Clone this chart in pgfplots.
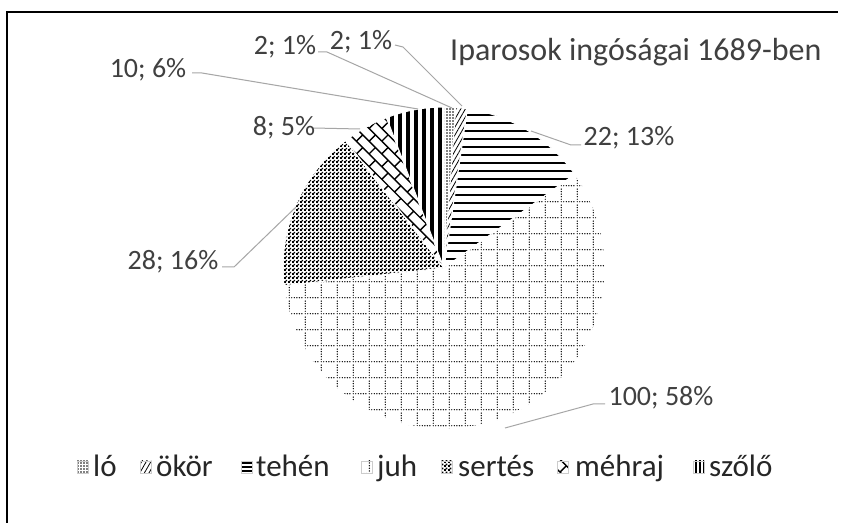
\documentclass[border=0pt]{standalone}
\usepackage{pgfplots}
\pgfplotsset{compat=1.18}
\usepackage{pgfplotstable}
\usepackage{fontspec}
\setmainfont{Carlito}
\usetikzlibrary{patterns,patterns.meta}

% dotted grid (juh)
\pgfdeclarepattern{
  name=dotgrid,
  bottom left={\pgfpoint{0bp}{0bp}},
  top right={\pgfpoint{16bp}{16bp}},
  tile size={\pgfpoint{16bp}{16bp}},
  code={
    \foreach \i in {0,...,5}{
      \pgfpathcircle{\pgfpoint{1.333bp+\i*2.6667bp}{1.333bp}}{0.75bp}
      \pgfpathcircle{\pgfpoint{1.333bp}{1.333bp+\i*2.6667bp}}{0.75bp}
    }
    \pgfusepath{fill}
  }
}
% diagonal bricks (mehraj)
\pgfdeclarepattern{
  name=diagbricks,
  bottom left={\pgfpoint{-1bp}{-1bp}},
  top right={\pgfpoint{19bp}{19bp}},
  tile size={\pgfpoint{18bp}{18bp}},
  tile transformation={\pgftransformrotate{-45}},
  code={
    \pgfsetlinewidth{1.4bp}
    \pgfpathmoveto{\pgfpoint{0bp}{0bp}}\pgfpathlineto{\pgfpoint{18bp}{0bp}}
    \pgfpathmoveto{\pgfpoint{0bp}{9bp}}\pgfpathlineto{\pgfpoint{18bp}{9bp}}
    \pgfpathmoveto{\pgfpoint{0bp}{0bp}}\pgfpathlineto{\pgfpoint{0bp}{9bp}}
    \pgfpathmoveto{\pgfpoint{9bp}{9bp}}\pgfpathlineto{\pgfpoint{9bp}{18bp}}
    \pgfusepath{stroke}
  }
}
% fine checkerboard (sertes)
\pgfdeclarepattern{
  name=finecheck,
  bottom left={\pgfpoint{0bp}{0bp}},
  top right={\pgfpoint{4bp}{4bp}},
  tile size={\pgfpoint{4bp}{4bp}},
  code={
    \pgfpathrectangle{\pgfpoint{0bp}{0bp}}{\pgfpoint{2.2bp}{2.2bp}}
    \pgfpathrectangle{\pgfpoint{2bp}{2bp}}{\pgfpoint{2bp}{2bp}}
    \pgfusepath{fill}
  }
}

\pgfplotstableread{
animal value
lo 2
okor 2
tehen 22
juh 100
sertes 28
mehraj 8
szolo 10
}\piedata

\definecolor{txt}{HTML}{404040}
\definecolor{lead}{HTML}{A6A6A6}

\pgfplotstablegetelem{0}{value}\of\piedata\edef\vA{\pgfplotsretval}
\pgfplotstablegetelem{1}{value}\of\piedata\edef\vB{\pgfplotsretval}
\pgfplotstablegetelem{2}{value}\of\piedata\edef\vC{\pgfplotsretval}
\pgfplotstablegetelem{3}{value}\of\piedata\edef\vD{\pgfplotsretval}
\pgfplotstablegetelem{4}{value}\of\piedata\edef\vE{\pgfplotsretval}
\pgfplotstablegetelem{5}{value}\of\piedata\edef\vF{\pgfplotsretval}
\pgfplotstablegetelem{6}{value}\of\piedata\edef\vG{\pgfplotsretval}
\pgfmathsetmacro\tot{\vA+\vB+\vC+\vD+\vE+\vF+\vG}
\pgfmathsetmacro\deg{360/\tot}
\pgfmathsetmacro\aA{90}
\pgfmathsetmacro\aB{\aA-\deg*\vA}
\pgfmathsetmacro\aC{\aB-\deg*\vB}
\pgfmathsetmacro\aD{\aC-\deg*\vC}
\pgfmathsetmacro\aE{\aD-\deg*\vD}
\pgfmathsetmacro\aF{\aE-\deg*\vE}
\pgfmathsetmacro\aG{\aF-\deg*\vF}
\pgfmathsetmacro\aH{\aG-\deg*\vG}
\def\R{161}
\newcommand\slice[3]{%
  \path[pattern=#3, pattern color=black, draw=white, line width=1bp]
    (axis cs:0,0) -- (axis cs:{\R*cos(#1)},{\R*sin(#1)})
    arc[start angle=#1, end angle=#2, radius=\R bp] -- cycle;}
\newcommand\legitem[4]{%
  \path[pattern=#3, pattern color=black, draw=black!20, line width=0.6bp]
    (#1bp,50bp) rectangle ++(11bp,12bp);
  \node[anchor=base west, inner sep=0pt, text=black!85,
        font=\fontsize{31bp}{36bp}\selectfont] at (#2bp,46bp) {#4};}

\begin{document}%
\begin{tikzpicture}[
  lbl/.style={text=txt, inner sep=0pt, font=\fontsize{28bp}{33bp}\selectfont},
  ldr/.style={draw=lead, line width=1bp}]
\fill[white] (0,0) rectangle (841bp,523bp);
\draw[line width=2.5bp] (7bp,0bp) -- (7bp,511bp) -- (838bp,511bp);
\begin{axis}[hide axis, x=1bp, y=1bp, xmin=-200, xmax=200, ymin=-200, ymax=200,
  anchor=origin, at={(444bp,255bp)}, clip=false]
\slice{\aA}{\aB}{{Dots[distance=3bp,radius=0.8bp]}}
\slice{\aB}{\aC}{{Lines[angle=60,distance=4bp,line width=0.8bp]}}
\slice{\aC}{\aD}{{Lines[angle=0,distance=8bp,line width=2.6bp]}}
\slice{\aD}{\aE}{dotgrid}
\slice{\aE}{\aF}{finecheck}
\slice{\aF}{\aG}{diagbricks}
\slice{\aG}{\aH}{{Lines[angle=90,distance=8bp,line width=3.5bp]}}
% leader lines
\draw[ldr] (axis cs:-252,195) -- (axis cs:-242,195) -- (axis cs:-26,159);
\draw[ldr] (axis cs:-126,216) -- (axis cs:-117,216) -- (axis cs:8,160);
\draw[ldr] (axis cs:-49,223) -- (axis cs:-41,221) -- (axis cs:18,162);
\draw[ldr] (axis cs:-131,140) -- (axis cs:-84,139);
\draw[ldr] (axis cs:137,123) -- (axis cs:127,123) -- (axis cs:87,137);
\draw[ldr] (axis cs:-222,1) -- (axis cs:-210,1) -- (axis cs:-148,61);
\draw[ldr] (axis cs:161,-136) -- (axis cs:149,-136) -- (axis cs:61,-160);
% labels
\node[lbl] at (axis cs:-159,221) {2; 1\%};
\node[lbl] at (axis cs:-83,226) {2; 1\%};
\node[lbl] at (axis cs:-296,198) {10; 6\%};
\node[lbl] at (axis cs:-160,140) {8; 5\%};
\node[lbl] at (axis cs:185,130) {22; 13\%};
\node[lbl] at (axis cs:-271,6) {28; 16\%};
\node[lbl] at (axis cs:217,-130) {100; 58\%};
\end{axis}
\node[anchor=base west, inner sep=0pt, text=txt, font=\fontsize{32bp}{38bp}\selectfont]
  at (450bp,462bp) {Iparosok ingóságai 1689-ben};
\legitem{77}{93}{{Dots[distance=3bp,radius=0.8bp]}}{ló}
\legitem{140}{156}{{Lines[angle=60,distance=4bp,line width=0.8bp]}}{ökör}
\legitem{241}{256}{{Lines[angle=0,distance=4bp,line width=1.2bp]}}{tehén}
\legitem{361}{377}{dotgrid}{juh}
\legitem{441}{458}{finecheck}{sertés}
\legitem{557}{575}{diagbricks}{méhraj}
\legitem{693}{709}{{Lines[angle=90,distance=4bp,line width=1.6bp]}}{szőlő}
\pgfresetboundingbox
\path[use as bounding box] (0,0) rectangle (841bp,523bp);
\end{tikzpicture}%
\end{document}
